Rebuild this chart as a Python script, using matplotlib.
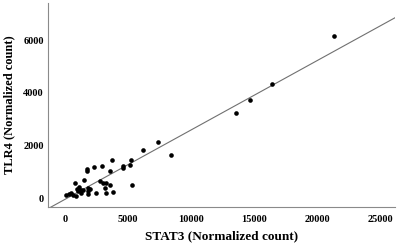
import numpy as np
import matplotlib
matplotlib.use('Agg')
import matplotlib.pyplot as plt

# STAT3 vs TLR4 normalized counts
stat3 = [21350, 16430, 14680, 13550, 7380, 6165, 8413, 5238, 3757, 4630,
         4630, 5130, 2910, 2300, 1770, 1770, 3570, 1530, 2750, 3040,
         3254, 3570, 5290, 820, 1110, 930, 1270, 1450, 1850, 1984,
         3200, 2484, 3254, 3833, 105, 450, 610, 873, 1294, 1790,
         1800, 300, 1000]
tlr4 = [6160, 4335, 3726, 3243, 2141, 1825, 1624, 1433, 1433, 1228,
        1129, 1266, 1217, 1190, 1122, 1019, 1034, 684, 658, 555,
        570, 494, 483, 559, 407, 354, 304, 304, 369, 331,
        369, 190, 190, 228, 125, 202, 114, 76, 179, 152,
        250, 150, 250]

xticks = [0, 5000, 10000, 15000, 20000, 25000]
yticks = [0, 2000, 4000, 6000]

plt.rcParams['font.family'] = ['Liberation Serif', 'DejaVu Serif']
plt.rcParams['font.weight'] = 'bold'

fig = plt.figure(figsize=(3.98, 2.45), dpi=100)
ax = fig.add_axes([0.1206, 0.155, 0.872, 0.833])

ax.scatter(stat3, tlr4, s=11, color='black', zorder=3, linewidths=0)

# least squares fit line
slope, intercept = np.polyfit(stat3, tlr4, 1)
xmin, xmax = -1350, 26190
xs = np.array([xmin, xmax])
ax.plot(xs, slope * xs + intercept, color='#707070', lw=0.8)

ax.set_xlim(xmin, xmax)
ax.set_ylim(-340, 7414)
ax.set_xticks(xticks)
ax.set_yticks(yticks)
ax.tick_params(length=0, labelsize=7.5)
ax.tick_params(axis='x', pad=6)
ax.tick_params(axis='y', pad=3)
for lab in ax.get_xticklabels() + ax.get_yticklabels():
    lab.set_fontweight('bold')

for side in ['top', 'right']:
    ax.spines[side].set_visible(False)
for side in ['left', 'bottom']:
    ax.spines[side].set_color('#8a8a8a')
    ax.spines[side].set_linewidth(0.8)

ax.set_xlabel('STAT3 (Normalized count)', fontsize=9.5, fontweight='bold', labelpad=4)
ax.set_ylabel('TLR4 (Normalized count)', fontsize=9, fontweight='bold', labelpad=6)

fig.savefig('out.png', dpi=100)
